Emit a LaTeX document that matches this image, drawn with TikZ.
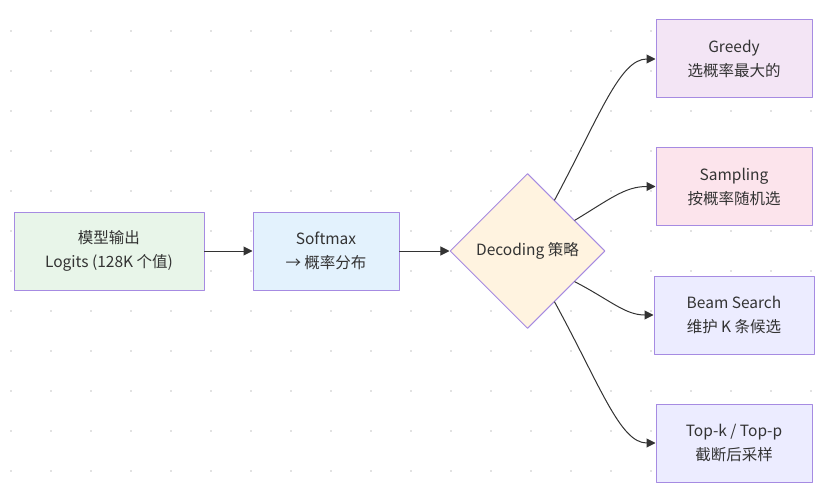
\documentclass[tikz,border=0pt]{standalone}
\usepackage{fontspec}
\setmainfont{Noto Sans CJK SC}
\usetikzlibrary{shapes.geometric,arrows.meta}
\definecolor{nodeline}{HTML}{A68BE2}
\definecolor{edgegray}{HTML}{333333}
\definecolor{textgray}{HTML}{333333}
\definecolor{dotgray}{HTML}{E2E2E2}
\definecolor{logitsfill}{HTML}{E8F5E9}
\definecolor{softmaxfill}{HTML}{E3F2FD}
\definecolor{decodefill}{HTML}{FFF3E0}
\definecolor{greedyfill}{HTML}{F3E5F5}
\definecolor{samplingfill}{HTML}{FCE4EC}
\definecolor{defaultfill}{HTML}{ECECFF}
\begin{document}
\begin{tikzpicture}[x=1pt, y=-1pt, font=\fontsize{15.5}{24}\selectfont, line join=round, line cap=round,
    >={Triangle[length=9pt,width=9pt]},
    box/.style={draw=nodeline, line width=1pt, inner sep=0pt, minimum height=78pt, align=center, text=textgray},
    choice/.style={diamond, draw=nodeline, line width=1pt, fill=decodefill, inner sep=0pt, aspect=1,
      minimum width=155pt, minimum height=155pt, text=textgray},
    flow/.style={->, draw=edgegray, line width=1pt}]
	\useasboundingbox (0,0) rectangle (831,495);
	% background dots
	\foreach \x in {11,51,...,811}
		\foreach \y in {31,71,...,471}
			\fill[dotgray] (\x-1,\y-1) rectangle (\x+1,\y+1);
	% nodes
	\node[box, fill=logitsfill, minimum width=190pt] (logits) at (109,251) {模型输出\\Logits (128K 个值)};
	\node[box, fill=softmaxfill, minimum width=146pt] (softmax) at (326,251) {Softmax\\→ 概率分布};
	\node[choice] (decode) at (527.5,251) {Decoding 策略};
	\node[box, fill=greedyfill, minimum width=156pt] (greedy) at (734,59) {Greedy\\选概率最大的};
	\node[box, fill=samplingfill, minimum width=156pt] (sampling) at (734,186.5) {Sampling\\按概率随机选};
	\node[box, fill=defaultfill, minimum width=160pt] (beam) at (734,315) {Beam Search\\维护 K 条候选};
	\node[box, fill=defaultfill, minimum width=156pt] (topk) at (734,443) {Top-k / Top-p\\截断后采样};
	% edges
	\draw[flow] (logits) -- (softmax);
	\draw[flow] (softmax) -- (decode);
	\draw[flow] (decode.62) .. controls (600,115) and (620,59) .. (greedy.west);
	\draw[flow] (decode.33) .. controls (610,199) and (625,186.5) .. (sampling.west);
	\draw[flow] (decode.-33) .. controls (610,300) and (625,315) .. (beam.west);
	\draw[flow] (decode.-62) .. controls (600,385) and (620,443) .. (topk.west);
\end{tikzpicture}
\end{document}
